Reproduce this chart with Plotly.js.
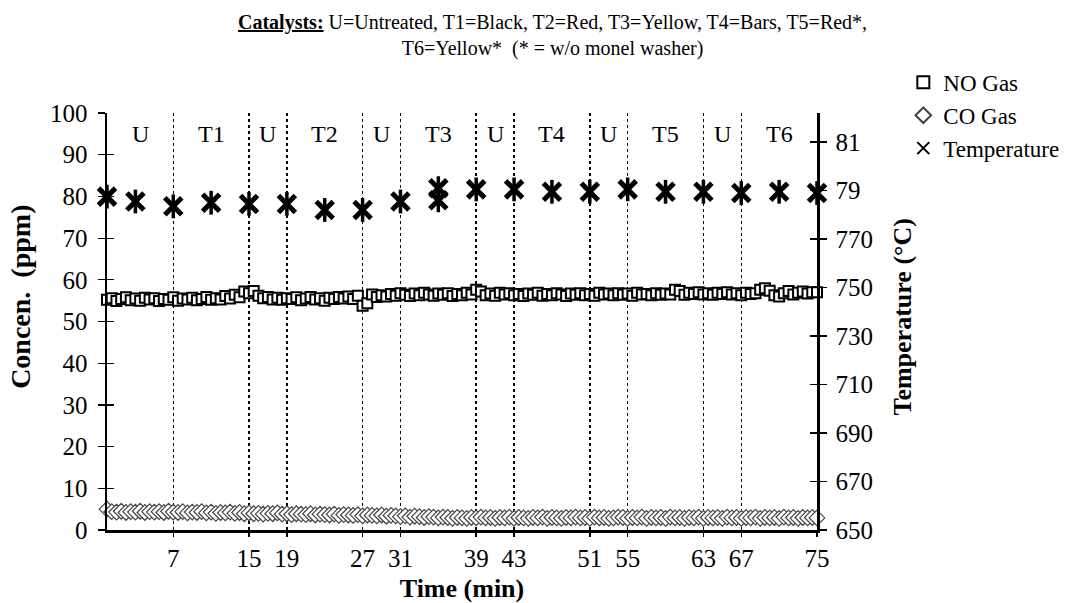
<!DOCTYPE html>
<html>
<head>
<meta charset="utf-8">
<script src="https://cdn.plot.ly/plotly-3.0.1.min.js"></script>
<style>
  html, body { margin: 0; padding: 0; background: #ffffff; }
  #chart { width: 1075px; height: 603px; }
  #chart .legendtext { font-family: "Liberation Serif", serif !important; }
</style>
</head>
<body>
<div id="chart"></div>
<script>
// ---- Data ----
const sampleTimes = [
  0,0.5,1,1.5,2,2.5,3,3.5,4,4.5,5,5.5,6,6.5,7,7.5,8,8.5,9,9.5,
  10,10.5,11,11.5,12,12.5,13,13.5,14,14.5,15,15.5,16,16.5,17,17.5,18,18.5,19,19.5,
  20,20.5,21,21.5,22,22.5,23,23.5,24,24.5,25,25.5,26,26.5,27,27.5,28,28.5,29,29.5,
  30,30.5,31,31.5,32,32.5,33,33.5,34,34.5,35,35.5,36,36.5,37,37.5,38,38.5,39,39.5,
  40,40.5,41,41.5,42,42.5,43,43.5,44,44.5,45,45.5,46,46.5,47,47.5,48,48.5,49,49.5,
  50,50.5,51,51.5,52,52.5,53,53.5,54,54.5,55,55.5,56,56.5,57,57.5,58,58.5,59,59.5,
  60,60.5,61,61.5,62,62.5,63,63.5,64,64.5,65,65.5,66,66.5,67,67.5,68,68.5,69,69.5,
  70,70.5,71,71.5,72,72.5,73,73.5,74,74.5,75
];
const noGas = [
  55.2,55.6,54.9,55.4,55.8,55.1,55.5,55.0,55.7,55.3,
  55.6,54.9,55.4,55.2,55.8,55.0,55.5,55.3,55.7,55.1,
  55.4,55.9,55.2,55.6,55.3,56.1,55.5,56.4,55.8,57.2,
  56.8,57.3,56.2,55.6,55.9,55.3,55.7,55.2,55.6,55.4,
  55.8,55.1,55.5,55.9,55.3,55.6,55.0,55.7,55.4,55.9,
  55.5,56.0,55.4,56.2,53.8,54.4,56.5,55.9,56.3,56.0,
  56.6,56.2,56.8,56.4,56.1,56.7,56.3,56.9,56.5,56.2,
  56.7,56.4,56.8,56.1,56.6,56.3,56.9,56.5,57.6,57.2,
  56.3,56.7,56.2,56.9,56.5,56.8,56.3,56.6,56.1,56.7,
  56.4,56.9,56.2,56.6,56.3,56.8,56.5,56.1,56.7,56.4,
  56.8,56.3,56.6,56.2,56.9,56.5,56.7,56.3,56.8,56.4,
  56.7,56.2,56.9,56.5,56.6,56.3,56.8,56.4,56.7,56.5,
  57.6,57.3,56.4,56.9,56.6,57.0,56.5,56.8,56.4,56.9,
  56.6,57.0,56.5,56.8,56.3,56.9,56.6,56.8,57.6,58.0,
  57.4,56.3,56.0,56.8,57.3,56.5,56.9,57.2,56.7,57.0,
  57.0
];
const coGas = [
  5.0,4.4,4.3,4.5,4.2,4.4,4.3,4.5,4.2,4.4,
  4.3,4.4,4.2,4.5,4.3,4.2,4.4,4.1,4.3,4.2,
  4.4,4.1,4.3,4.0,4.2,4.1,4.3,4.0,4.2,3.9,
  4.1,3.9,4.0,3.8,4.0,3.9,4.1,3.8,3.9,3.7,
  3.9,3.8,3.7,3.9,3.6,3.8,3.7,3.6,3.8,3.5,
  3.7,3.6,3.5,3.7,3.4,3.6,3.5,3.4,3.6,3.3,
  3.5,3.4,3.2,3.4,3.1,3.3,3.2,3.0,3.2,3.1,
  2.9,3.1,3.0,2.8,3.0,2.9,2.8,3.0,2.9,3.1,
  2.9,3.0,2.8,3.0,2.9,3.1,2.8,3.0,2.9,2.8,
  3.0,2.9,3.1,2.8,3.0,2.9,2.8,3.0,2.9,3.1,
  2.9,3.0,2.8,3.1,2.9,3.0,2.8,2.9,3.1,3.0,
  2.8,3.0,2.9,3.1,2.8,3.0,2.9,3.0,2.8,3.1,
  2.9,3.0,2.8,3.0,2.9,3.1,2.8,3.0,2.9,3.0,
  2.8,3.1,2.9,3.0,2.8,3.0,2.9,3.1,2.8,3.0,
  2.9,3.0,2.8,3.1,2.9,3.0,2.8,3.0,2.9,3.0,
  2.9
];
const tempTimes = [0,3,7,11,15,19,23,27,31,35,35,39,43,47,51,55,59,63,67,71,75];
const temperature = [787.5,785.5,783.5,785,784.5,784.5,782,782,785.5,786,791,790.5,790.5,789.5,789.5,790.5,789.5,789.5,789,789.5,789];

const boundaryTicks = [7,15,19,27,31,39,43,51,55,63,67,75];
const catalystLabels = ['U','T1','U','T2','U','T3','U','T4','U','T5','U','T6'];
const catalystCenters = [3.5,11,17,23,29,35,41,47,53,59,65,71];
const catalystLabelLevel = 95;

const tempTickVals = [650,670,690,710,730,750,770,790,810];
const tempTickText = ['650','670','690','710','730','750','770','79','81'];

// ---- Chart ----
const FONT = 'Liberation Serif';
const TICKFONT = { family: FONT, size: 25, color: '#000000' };

const traces = [
  {
    x: sampleTimes, y: noGas, name: 'NO Gas', type: 'scatter', mode: 'markers',
    marker: { symbol: 'square', size: 10, color: '#ffffff', line: { color: '#000000', width: 2 } },
    cliponaxis: false
  },
  {
    x: sampleTimes, y: coGas, name: 'CO Gas', type: 'scatter', mode: 'markers',
    marker: { symbol: 'diamond', size: 12, color: '#ffffff', line: { color: '#444444', width: 1.2 } },
    cliponaxis: false
  },
  {
    x: tempTimes, y: temperature, name: 'Temperature', type: 'scatter', mode: 'markers',
    yaxis: 'y2',
    marker: { symbol: 'x-thin-open', size: 17, color: '#000000', line: { color: '#000000', width: 5 } },
    cliponaxis: false
  },
  {
    x: tempTimes, y: temperature, name: 'Temperature', type: 'scatter', mode: 'markers',
    yaxis: 'y2', showlegend: false, hoverinfo: 'skip',
    marker: { symbol: 'line-ns-open', size: 17, color: '#000000', line: { color: '#000000', width: 3.5 } },
    cliponaxis: false
  },
  // invisible helpers so the crossing tick axes are drawn
  { x: [0], y: [0], yaxis: 'y3', type: 'scatter', mode: 'markers', showlegend: false, hoverinfo: 'skip', marker: { opacity: 0 } },
  { x: [0], y: [0], yaxis: 'y4', type: 'scatter', mode: 'markers', showlegend: false, hoverinfo: 'skip', marker: { opacity: 0 } }
];

const annotations = catalystLabels.map((lab, i) => ({
  x: catalystCenters[i], y: catalystLabelLevel, xref: 'x', yref: 'y',
  text: lab, showarrow: false,
  font: { family: FONT, size: 24, color: '#000000' }
}));
annotations.push({
  xref: 'paper', yref: 'paper', x: 0.627, y: 1.25, xanchor: 'center', yanchor: 'top', align: 'center',
  text: '<b><u>Catalysts:</u></b> U=Untreated, T1=Black, T2=Red, T3=Yellow, T4=Bars, T5=Red*,<br>T6=Yellow*\u00A0\u00A0(* = w/o monel washer)',
  showarrow: false,
  font: { family: FONT, size: 20, color: '#000000' }
});
annotations.push({
  xref: 'paper', yref: 'paper', x: -0.122, y: 0.56, xanchor: 'center', yanchor: 'middle',
  text: '<b>Concen.\u00A0\u00A0(ppm)</b>', textangle: -90, showarrow: false,
  font: { family: FONT, size: 28, color: '#000000' }
});
annotations.push({
  xref: 'paper', yref: 'paper', x: 1.12, y: 0.51, xanchor: 'center', yanchor: 'middle',
  text: '<b>Temperature (°C)</b>', textangle: -90, showarrow: false,
  font: { family: FONT, size: 26, color: '#000000' }
});

const layout = {
  width: 1075, height: 603,
  paper_bgcolor: '#ffffff', plot_bgcolor: '#ffffff',
  margin: { l: 107, r: 257, t: 113, b: 73 },
  font: { family: FONT, size: 23, color: '#000000' },
  showlegend: true,
  legend: {
    x: 1.12, y: 1.125, xanchor: 'left', yanchor: 'top',
    font: { size: 23, color: '#000000' },
    bgcolor: 'rgba(0,0,0,0)', tracegroupgap: 0, itemsizing: 'constant'
  },
  xaxis: {
    range: [0, 75], tickmode: 'array', tickvals: boundaryTicks,
    showgrid: true, gridcolor: '#000000', gridwidth: 1.5, griddash: 'dot',
    showline: true, linecolor: '#000000', linewidth: 2.5,
    ticks: 'outside', ticklen: 4, tickwidth: 1.5, tickcolor: '#000000',
    zeroline: false, mirror: false,
    tickfont: TICKFONT,
    title: { text: '<b>Time (min)</b>', font: { family: FONT, size: 26 }, standoff: 10 }
  },
  yaxis: {
    range: [0, 100], dtick: 10, tick0: 0,
    showgrid: false, zeroline: false,
    showline: true, linecolor: '#000000', linewidth: 2.5,
    ticks: 'outside', ticklen: 7, tickwidth: 1.2, tickcolor: '#000000',
    ticklabelstandoff: 5,
    tickfont: TICKFONT
  },
  yaxis2: {
    range: [650, 822], overlaying: 'y', side: 'right',
    tickmode: 'array', tickvals: tempTickVals, ticktext: tempTickText,
    showgrid: false, zeroline: false,
    showline: true, linecolor: '#000000', linewidth: 2.5,
    ticks: 'outside', ticklen: 7, tickwidth: 1.2, tickcolor: '#000000',
    ticklabelstandoff: 4,
    tickfont: TICKFONT
  },
  yaxis3: {
    range: [0, 100], dtick: 10, tick0: 0, overlaying: 'y', side: 'left',
    showgrid: false, zeroline: false, showline: false, showticklabels: false,
    ticks: 'inside', ticklen: 7, tickwidth: 1.2, tickcolor: '#000000'
  },
  yaxis4: {
    range: [650, 822], overlaying: 'y', side: 'right',
    tickmode: 'array', tickvals: tempTickVals,
    showgrid: false, zeroline: false, showline: false, showticklabels: false,
    ticks: 'inside', ticklen: 7, tickwidth: 1.2, tickcolor: '#000000'
  },
  annotations: annotations
};

Plotly.newPlot('chart', traces, layout, { staticPlot: true, displayModeBar: false });
</script>
</body>
</html>
